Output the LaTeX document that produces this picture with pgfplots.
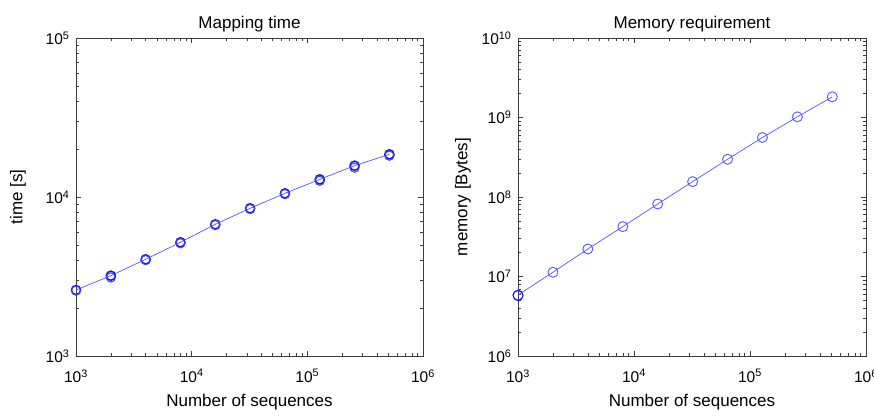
\documentclass[border=0pt]{standalone}
\usepackage{fontspec}
\setmainfont{Liberation Sans}
\usepackage{pgfplots}
\pgfplotsset{compat=1.18}
\definecolor{lineblue}{RGB}{85,85,255}
\definecolor{markblue}{RGB}{15,15,235}
\definecolor{framegray}{RGB}{60,60,60}
\pgfplotsset{every axis/.append style={
    scale only axis, height=318pt,
    xmin=1e3, xmax=1e6,
    xtick={1e3,1e4,1e5,1e6},
    xticklabels={10\textsuperscript{3},10\textsuperscript{4},10\textsuperscript{5},10\textsuperscript{6}},
    tick align=inside, major tick length=5pt, minor tick length=3pt,
    axis line style={framegray, line width=0.6pt},
    every tick/.style={framegray, line width=0.5pt},
    ticklabel style={font=\fontsize{15.5}{15.5}\selectfont},
    xticklabel style={yshift=-10pt},
    yticklabel style={xshift=-3pt},
    xlabel style={font=\fontsize{17}{17}\selectfont, at={(axis description cs:0.5,-0.145)}, anchor=center},
    title style={font=\fontsize{17}{17}\selectfont, at={(axis description cs:0.5,1.025)}, anchor=center},
    xlabel={Number of sequences},
  }
}
\begin{document}
\begin{tikzpicture}
\path[use as bounding box] (0,0) rectangle (874pt,415pt);

% left: mapping time
\begin{loglogaxis}[at={(76pt,59pt)}, anchor=south west, width=347pt,
  ymin=1e3, ymax=1e5,
  ytick={1e3,1e4,1e5},
  yticklabels={10\textsuperscript{3},10\textsuperscript{4},10\textsuperscript{5}},
  ylabel={time [s]},
  ylabel style={font=\fontsize{17}{17}\selectfont, at={(axis description cs:-0.167,0.5)}, anchor=center},
  title={Mapping time}]
\addplot[lineblue, line width=0.7pt, mark=o, mark size=4.6pt,
  mark options={markblue, line width=1.4pt}]
coordinates {(1000,2600) (2000,3200) (4000,4055) (8000,5190) (16000,6730)
  (32000,8490) (64000,10540) (128000,12910) (256000,15740) (512000,18550)};
\addplot[only marks, mark=o, mark size=4.6pt,
  mark options={markblue!80, line width=1.1pt}]
coordinates {(1000,2580) (2000,3120) (4000,4010) (8000,5120) (16000,6660)
  (32000,8400) (64000,10430) (128000,12650) (256000,15300) (512000,18200)};
\end{loglogaxis}

% right: memory requirement
\begin{loglogaxis}[at={(518pt,59pt)}, anchor=south west, width=348pt,
  ymin=1e6, ymax=1e10,
  ytick={1e6,1e7,1e8,1e9,1e10},
  yticklabels={10\textsuperscript{6},10\textsuperscript{7},10\textsuperscript{8},10\textsuperscript{9},10\textsuperscript{10}},
  ylabel={memory [Bytes]},
  ylabel style={font=\fontsize{17}{17}\selectfont, at={(axis description cs:-0.158,0.5)}, anchor=center},
  title={Memory requirement}]
\addplot[lineblue, line width=0.7pt, mark=o, mark size=5pt,
  mark options={lineblue, line width=0.9pt}]
coordinates {(1000,5.85e6) (2000,1.13e7) (4000,2.22e7) (8000,4.24e7) (16000,8.17e7)
  (32000,1.56e8) (64000,2.98e8) (128000,5.6e8) (256000,1.02e9) (512000,1.82e9)};
\addplot[only marks, mark=o, mark size=5pt,
  mark options={markblue, line width=0.9pt}]
coordinates {(1000,5.75e6)};
\end{loglogaxis}
\end{tikzpicture}
\end{document}
